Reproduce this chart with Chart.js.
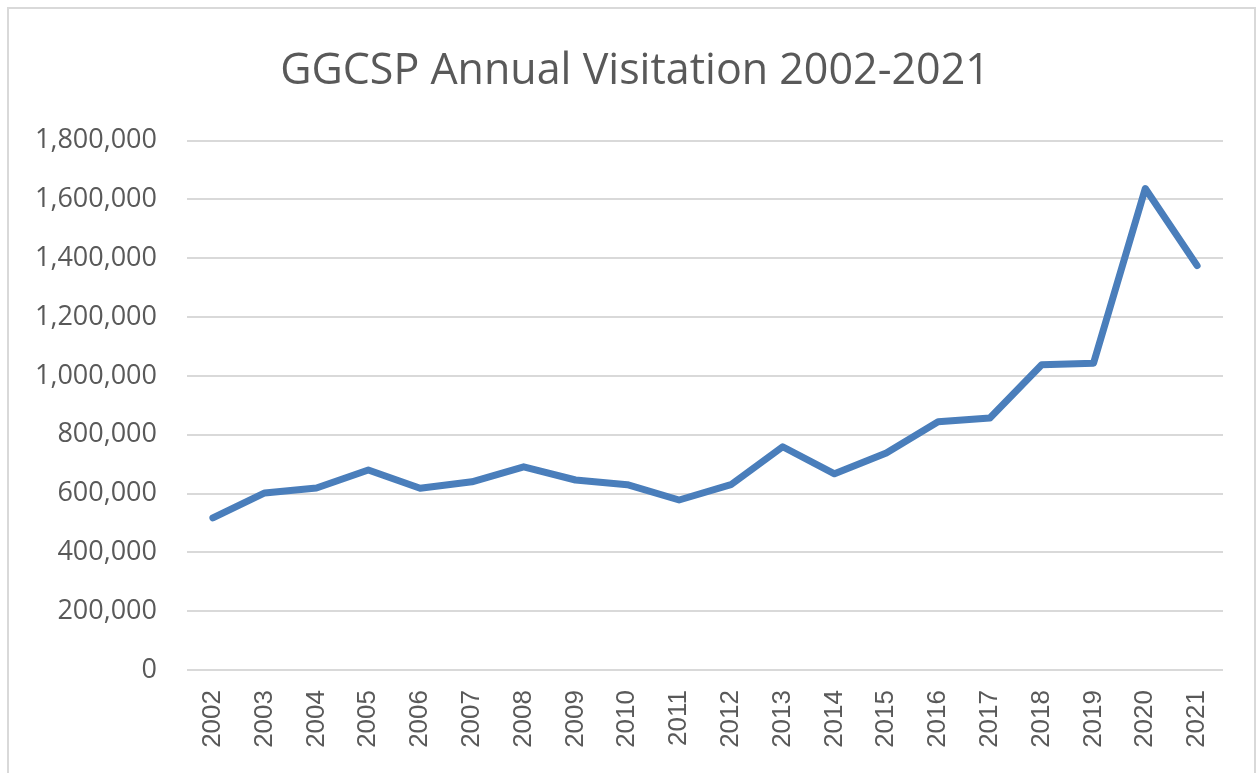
<!DOCTYPE html>
<html>
<head>
<meta charset="utf-8">
<script src="https://cdn.jsdelivr.net/npm/chart.js@4.4.0/dist/chart.umd.min.js"></script>
<style>
  html, body { margin: 0; padding: 0; background: #ffffff; }
  #wrap { position: relative; width: 1260px; height: 773px; overflow: hidden; }
  #frame { position: absolute; left: 7px; top: 7px; width: 1249px; height: 800px; border: 2px solid #d9d9d9; box-sizing: border-box; pointer-events: none; }
  canvas { position: absolute; left: 0; top: 0; }
</style>
</head>
<body>
<div id="wrap">
  <canvas id="c" width="1260" height="773"></canvas>
  <div id="frame"></div>
</div>
<script>
const chartTitle = "GGCSP Annual Visitation 2002-2021";
const years = ["2002","2003","2004","2005","2006","2007","2008","2009","2010","2011","2012","2013","2014","2015","2016","2017","2018","2019","2020","2021"];
const visitation = [517000, 602000, 619000, 680000, 618000, 640000, 691000, 646000, 630000, 578000, 630000, 759000, 667000, 738000, 844000, 857000, 1038000, 1043000, 1637000, 1375000];
const yMin = 0;
const yMax = 1800000;
const yStep = 200000;

const textColor = '#595959';

new Chart(document.getElementById('c'), {
  type: 'line',
  data: {
    labels: years,
    datasets: [{
      label: 'Visitation',
      data: visitation,
      yAxisID: 'y',
      borderColor: '#4a7ebb',
      backgroundColor: '#4a7ebb',
      borderWidth: 7,
      borderCapStyle: 'round',
      borderJoinStyle: 'round',
      pointRadius: 0,
      pointHoverRadius: 0,
      tension: 0,
      fill: false
    }]
  },
  options: {
    responsive: false,
    animation: false,
    events: [],
    layout: { padding: { left: 10, right: 0, top: 0, bottom: 0 } },
    plugins: {
      legend: { display: false },
      tooltip: { enabled: false },
      title: {
        display: true,
        text: chartTitle,
        color: textColor,
        font: { family: '"Open Sans", sans-serif', size: 43, weight: 'normal', lineHeight: 1.2 },
        padding: { top: 46, bottom: 43 }
      }
    },
    scales: {
      x: {
        type: 'category',
        offset: true,
        grid: { display: false, drawTicks: false },
        border: { display: false },
        ticks: {
          color: textColor,
          font: { family: '"Liberation Sans Narrow", "Liberation Sans", sans-serif', size: 26 },
          minRotation: 90,
          maxRotation: 90,
          autoSkip: false,
          padding: 20
        },
        afterFit: (scale) => { scale.height = 103; }
      },
      y: {
        position: 'left',
        min: yMin,
        max: yMax,
        grid: { color: '#d9d9d9', lineWidth: 2, drawTicks: false },
        border: { display: false },
        ticks: {
          stepSize: yStep,
          color: textColor,
          padding: 30,
          font: { family: '"Open Sans", sans-serif', size: 27 },
          callback: (v) => Number(v).toLocaleString('en-US')
        },
        afterFit: (scale) => { scale.width = 177; }
      },
      yRight: {
        position: 'right',
        display: true,
        min: yMin,
        max: yMax,
        grid: { display: false, drawTicks: false },
        border: { display: false },
        ticks: { display: false },
        afterFit: (scale) => { scale.width = 37; }
      }
    }
  }
});
</script>
</body>
</html>
